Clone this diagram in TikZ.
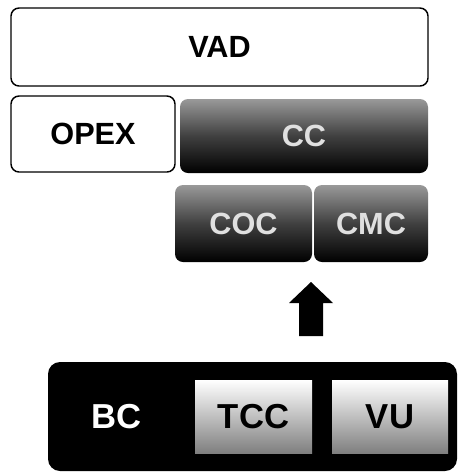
\documentclass[tikz,border=0pt]{standalone}
\usepackage{fontspec}
\setmainfont{Liberation Sans}
\begin{document}
\begin{tikzpicture}[x=0.75pt,y=-0.75pt,
  lbl/.style={font=\bfseries\fontsize{23}{27}\selectfont, inner sep=0pt},
  bigl/.style={font=\bfseries\fontsize{26}{30}\selectfont, inner sep=0pt},
  whitebox/.style={lbl, draw=black, line width=1.1pt, fill=white, rounded corners=6pt},
  darkbox/.style={lbl, rounded corners=6pt, top color=black!40, bottom color=black, middle color=black!75, text=black!12},
  lightbox/.style={bigl, top color=white, bottom color=black!50, middle color=black!25, text=black},
  basebox/.style={fill=black, rounded corners=9pt},
  blockarrow/.style={fill=black}
]
\useasboundingbox (0,0) rectangle (460,472);
\node[whitebox, minimum width=417*0.75pt, minimum height=78*0.75pt] (vad) at (219.5,47) {VAD};
\node[whitebox, minimum width=164*0.75pt, minimum height=76*0.75pt] (opex) at (93,134) {OPEX};
\node[darkbox, minimum width=248*0.75pt, minimum height=74*0.75pt] (cc) at (304,136) {CC};
\node[darkbox, minimum width=137*0.75pt, minimum height=77*0.75pt] (coc) at (243.5,223.5) {COC};
\node[darkbox, minimum width=114*0.75pt, minimum height=77*0.75pt] (cmc) at (371,223.5) {CMC};
\node[basebox, minimum width=409*0.75pt, minimum height=109*0.75pt] (base) at (252.5,416.5) {};
\node[bigl, text=white] (bc) at (117,417) {BC};
\node[lightbox, minimum width=117*0.75pt, minimum height=73*0.75pt] (tcc) at (253.5,416.5) {TCC};
\node[lightbox, minimum width=116*0.75pt, minimum height=73*0.75pt] (vu) at (390,416.5) {VU};
\coordinate (tip) at (311,282);
\fill[blockarrow] (tip) -- (333,303) -- (323,303) -- (323,336) -- (299,336) -- (299,303) -- (289,303) -- cycle;
\end{tikzpicture}
\end{document}
